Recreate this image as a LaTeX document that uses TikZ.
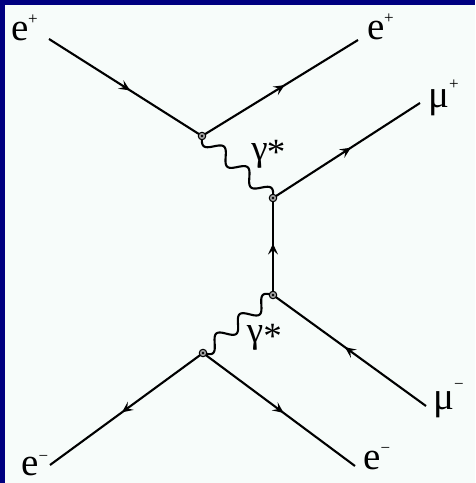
\documentclass[tikz,border=0pt]{standalone}
\usepackage{fontspec}
\setmainfont{Liberation Serif}
\usetikzlibrary{arrows.meta,decorations.markings}
\definecolor{bgc}{RGB}{247,252,250}
\definecolor{navyc}{RGB}{0,0,128}
\begin{document}
\begin{tikzpicture}[x=1pt,y=1pt,
  fermion/.style={line width=2.1pt, postaction={decorate},
    decoration={markings, mark=at position 0.53 with {\arrow{Stealth[length=11pt,width=10pt,inset=4.5pt]}}}},
  photon/.style={line width=2.1pt, line join=round},
  vtx/.style={circle, draw=black, fill=gray!75, line width=1pt, minimum size=7.5pt, inner sep=0pt},
  lbl/.style={inner sep=0pt, font=\fontsize{39}{39}\selectfont},
  gam/.style={inner sep=0pt, font=\fontsize{37}{37}\selectfont},
  sup/.style={inner sep=0pt, font=\fontsize{17}{17}\selectfont},
  ]
\useasboundingbox (0,0) rectangle (475,483);
\fill[bgc] (0,0) rectangle (475,483);
\fill[navyc] (0,0) rectangle (5,483);
\fill[navyc] (0,478) rectangle (475,483);

% vertices and free ends
\coordinate (A) at (202,347);
\coordinate (B) at (273,285);
\coordinate (C) at (273,188);
\coordinate (D) at (203,130);
\coordinate (p1) at (49,444);
\coordinate (p2) at (358,443);
\coordinate (p3) at (420,380);
\coordinate (p4) at (426,77);
\coordinate (p5) at (50,18);
\coordinate (p6) at (355,17);

% fermion lines
\draw[fermion] (p1) -- (A);
\draw[fermion] (A) -- (p2);
\draw[fermion] (B) -- (p3);
\draw[fermion] (C) -- (B);
\draw[fermion] (p4) -- (C);
\draw[fermion] (D) -- (p5);
\draw[fermion] (D) -- (p6);

% photons
\draw[photon, shift={(A)}, rotate=-41.13]
  plot[domain=0:94.26, samples=160, smooth] (\x, {-6.5*sin(\x/94.26*1080)});
\draw[photon, shift={(D)}, rotate=39.64]
  plot[domain=0:90.91, samples=160, smooth] (\x, {-6.5*sin(\x/90.91*1080)});

% vertex markers
\foreach \v in {A,B,C,D} {
  \node[vtx] (v\v) at (\v) {};
  \fill (\v) circle (1.3pt);
}

% labels
\node[lbl] (l1) at (20.5,451) {e};
\node[sup] (s1) at (33,463.5) {+};
\node[lbl] (l2) at (376,452) {e};
\node[sup] (s2) at (389,464.5) {+};
\node[lbl] (l3) at (439,380) {μ};
\node[sup] (s3) at (454,398) {+};
\node[lbl] (l4) at (444,78.5) {μ};
\node[sup] (s4) at (459,96.5) {−};
\node[lbl] (l5) at (30,16) {e};
\node[sup] (s5) at (43.5,24.5) {−};
\node[lbl] (l6) at (372,22.5) {e};
\node[sup] (s6) at (385.5,32.5) {−};

\node[gam] (g1) at (259.5,327.5) {γ};
\node[gam] (a1) at (276,331) {*};
\node[gam] (g2) at (255,145) {γ};
\node[gam] (a2) at (272.5,147) {*};
\end{tikzpicture}
\end{document}
